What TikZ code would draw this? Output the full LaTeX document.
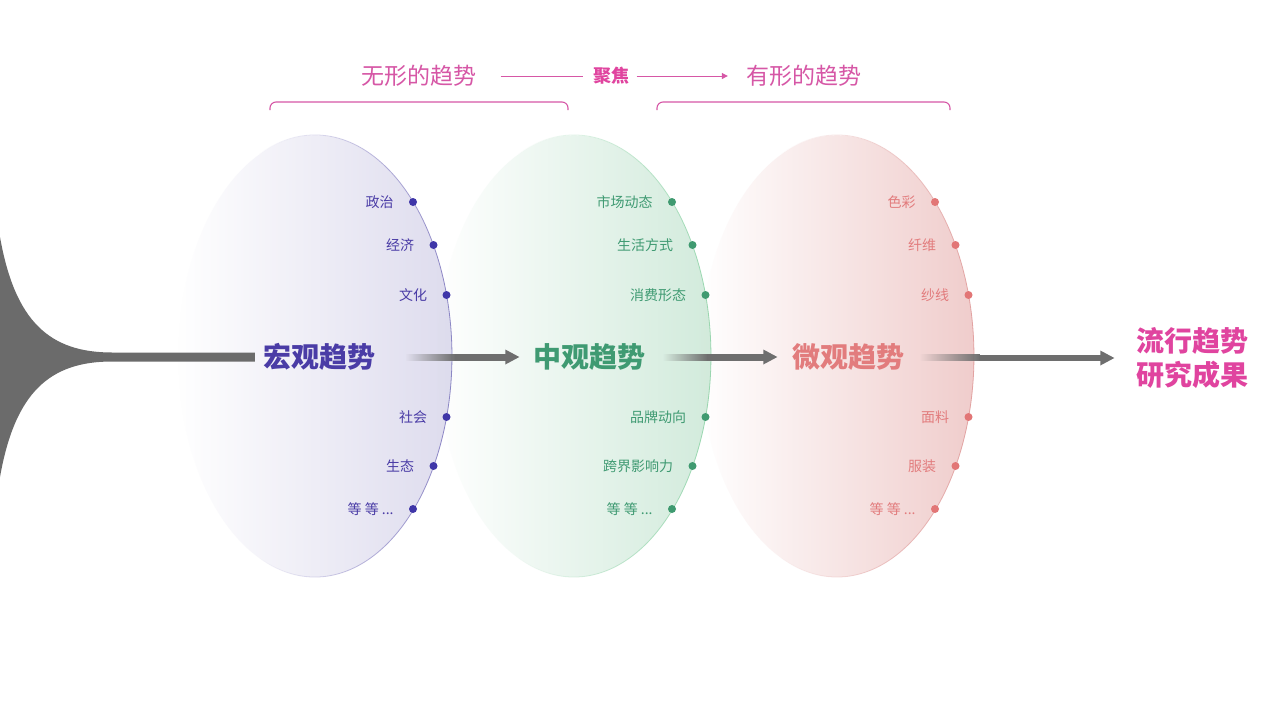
\documentclass[tikz,border=0pt]{standalone}
\usepackage{fontspec}
\setmainfont{Noto Sans CJK SC}
\usetikzlibrary{arrows.meta,positioning,fadings}
\definecolor{hgray}{HTML}{6B6B6B}
\definecolor{agray}{HTML}{6E6E6E}
\definecolor{pfill}{HTML}{DEDCEE}
\definecolor{pstroke}{HTML}{7E77BE}
\definecolor{pdot}{HTML}{3F36A8}
\definecolor{ptext}{HTML}{4A3CA6}
\definecolor{gfill}{HTML}{D2EBDC}
\definecolor{gstroke}{HTML}{8FD4A8}
\definecolor{gdot}{HTML}{3F9A70}
\definecolor{gtext}{HTML}{3F9A72}
\definecolor{rfill}{HTML}{F0CDCC}
\definecolor{rstroke}{HTML}{E09C9B}
\definecolor{rdot}{HTML}{E27676}
\definecolor{rtext}{HTML}{E27C7D}
\definecolor{mag}{HTML}{E0449F}
\definecolor{magl}{HTML}{D657A6}
\tikzfading[name=fadeE, left color=transparent!100, middle color=transparent!85, right color=transparent!0]
\tikzfading[name=fadeS, left color=transparent!100, middle color=transparent!60, right color=transparent!0]
\tikzfading[name=fadeL, left color=transparent!100, right color=transparent!0]
\newcommand\etcx{等 等 ...}
\newcommand\gradarrow[3]{%
  \fill[agray, path fading=fadeL] ([yshift=-3.5pt]#1) rectangle ([xshift=#3,yshift=3.5pt]#1);
  \fill[agray] ([xshift=#3-0.6pt, yshift=-3.5pt]#1) rectangle ([xshift=-13pt,yshift=3.5pt]#2);
  \fill[agray] (#2) -- ([xshift=-14pt,yshift=7.5pt]#2) -- ([xshift=-14pt,yshift=-7.5pt]#2) -- cycle;}
\begin{document}
\begin{tikzpicture}[x=1pt,y=-1pt,
  lbl/.style={font=\fontsize{14}{16}\selectfont, inner sep=0pt},
  dotn/.style={circle, fill, inner sep=0pt, minimum size=8pt},
  main/.style={font=\fontsize{28}{34}\selectfont\bfseries, inner sep=0pt},
  toptxt/.style={font=\fontsize{23}{26}\selectfont, text=magl, inner sep=0pt},
  topline/.style={draw=magl, line width=1pt},
  brk/.style={draw=magl, line width=1.1pt, rounded corners=6pt},
  rim/.style={line width=0.8pt, path fading=fadeS}]
\useasboundingbox[fill=white] (0,0) rectangle (1268,712);

% ---- ellipses ----
\fill[pfill, path fading=fadeE] (315,356) ellipse[x radius=137, y radius=221];
\draw[pstroke, rim] ([shift={(315,356)}]114:137 and 221) arc[start angle=114, end angle=-114, x radius=137, y radius=221];
\fill[gfill, path fading=fadeE] (574,356) ellipse[x radius=137, y radius=221];
\draw[gstroke, rim] ([shift={(574,356)}]114:137 and 221) arc[start angle=114, end angle=-114, x radius=137, y radius=221];
\fill[rfill, path fading=fadeE] (837,356) ellipse[x radius=137, y radius=221];
\draw[rstroke, rim] ([shift={(837,356)}]114:137 and 221) arc[start angle=114, end angle=-114, x radius=137, y radius=221];

% ---- dots and labels ----
\foreach \cx/\dc/\tc/\pre/\la/\lb/\lc/\ld/\le/\lf in {
  315/pdot/ptext/a/政治/经济/文化/社会/生态/\etcx,
  574/gdot/gtext/b/市场动态/生活方式/消费形态/品牌动向/跨界影响力/\etcx,
  837/rdot/rtext/c/色彩/纤维/纱线/面料/服装/\etcx}{
  \node[dotn, fill=\dc] (\pre d1) at (\cx+98,202) {};
  \node[dotn, fill=\dc] (\pre d2) at (\cx+118.5,245) {};
  \node[dotn, fill=\dc] (\pre d3) at (\cx+131.5,295) {};
  \node[dotn, fill=\dc] (\pre d4) at (\cx+131.5,417) {};
  \node[dotn, fill=\dc] (\pre d5) at (\cx+118.5,466) {};
  \node[dotn, fill=\dc] (\pre d6) at (\cx+98,509) {};
  \node[lbl, text=\tc, left=15pt of \pre d1] (\pre l1) {\la};
  \node[lbl, text=\tc, left=15pt of \pre d2] (\pre l2) {\lb};
  \node[lbl, text=\tc, left=15pt of \pre d3] (\pre l3) {\lc};
  \node[lbl, text=\tc, left=15pt of \pre d4] (\pre l4) {\ld};
  \node[lbl, text=\tc, left=15pt of \pre d5] (\pre l5) {\le};
  \node[lbl, text=\tc, left=15pt of \pre d6] (\pre l6) {\lf};
}

% ---- main labels ----
\node[main, text=ptext] (m1) at (319,357) {宏观趋势};
\node[main, text=gtext] (m2) at (589.5,357) {中观趋势};
\node[main, text=rtext] (m3) at (848.5,357) {微观趋势};
\node[main, text=mag, align=center] (res) at (1192.5,358) {流行趋势\\研究成果};

% ---- left horn ----
\fill[hgray] (0,237) .. controls (15,322) and (50,352.5) .. (112,352.5) -- ([xshift=-8pt]m1.west |- 0,352.5) -- ([xshift=-8pt]m1.west |- 0,361.5) -- (112,361.5) .. controls (50,361.5) and (15,392) .. (0,477) -- cycle;

% ---- gradient arrows ----
\coordinate (s1) at ([xshift=30pt]m1.east);
\coordinate (t1) at ([xshift=-14pt]m2.west);
\coordinate (s2) at ([xshift=17pt]m2.east);
\coordinate (t2) at ([xshift=-15pt]m3.west);
\coordinate (s3) at ([xshift=15pt]m3.east);
\coordinate (t3) at ([xshift=-22pt]res.west);
\gradarrow{s1}{t1}{50pt}
\gradarrow{s2}{t2}{45pt}
\gradarrow{s3}{t3}{60pt}

% ---- top row ----
\node[toptxt] (wx) at (419,76) {无形的趋势};
\node[font=\fontsize{18}{20}\selectfont\bfseries, text=mag, inner sep=0pt] (jj) at (611.5,76) {聚焦};
\node[toptxt] (yx) at (803.5,76) {有形的趋势};
\draw[topline] ([xshift=24pt]wx.east) -- ([xshift=-10pt]jj.west);
\draw[topline, -{Triangle[length=6pt,width=6pt]}] ([xshift=7pt]jj.east) -- ([xshift=-18pt]yx.west);
\draw[brk] (270,110) -- (270,102) -- (568,102) -- (568,110);
\draw[brk] (657,110) -- (657,102) -- (950,102) -- (950,110);
\end{tikzpicture}
\end{document}
